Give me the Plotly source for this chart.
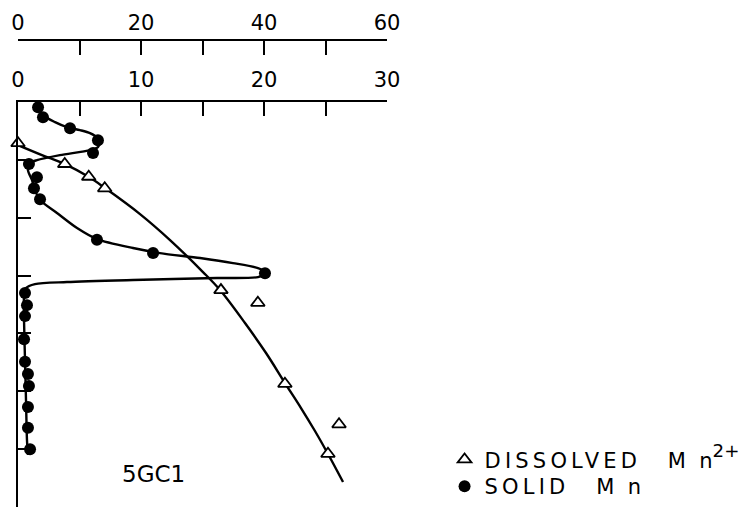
import plotly.graph_objects as go

# ---- data ----
# Dissolved Mn2+ (top scale, 0-60), depth in arbitrary units (ticks every 10)
dis_val = [0.0, 7.6, 11.5, 14.1, 33.0, 39.0, 43.4, 52.2, 50.4]
dis_depth = [7.1, 10.7, 12.9, 14.9, 32.5, 34.7, 48.7, 55.7, 60.8]

# Solid Mn (second scale, 0-30)
sol_val = [1.63, 2.03, 4.23, 6.50, 6.10, 0.89, 1.54, 1.30, 1.79, 6.42, 10.98, 20.08,
           0.57, 0.73, 0.57, 0.49, 0.57, 0.81, 0.89, 0.81, 0.81, 0.98]
sol_depth = [0.9, 2.6, 4.5, 6.6, 8.8, 10.7, 13.0, 14.9, 16.8, 23.8, 26.1, 29.6,
             33.0, 35.1, 37.0, 41.0, 44.9, 47.0, 49.1, 52.7, 56.3, 60.0]

# Hand-drawn fitted curves
dis_curve_val = [0.0, 3.90, 7.64, 11.54, 14.15, 19.84, 24.72, 30.08, 32.85, 36.91, 40.33,
                 43.41, 46.02, 48.29, 50.41, 52.85]
dis_curve_depth = [7.43, 9.16, 10.72, 12.96, 14.86, 19.36, 23.85, 29.38, 32.49, 38.20,
                   43.38, 48.57, 52.89, 56.86, 60.84, 65.68]

sol_curve_val = [1.38, 1.71, 2.03, 3.01, 3.98, 5.04, 5.85, 6.50, 6.67, 6.50, 5.85, 3.41,
                 1.54, 0.98, 0.81, 1.14, 1.38, 1.79, 3.17, 4.80, 6.42, 9.35, 11.54, 14.80,
                 17.48, 19.51, 20.24, 19.51, 16.18, 9.35, 3.98, 1.38, 0.65, 0.49, 0.49,
                 0.57, 0.65, 0.73, 0.81]
sol_curve_depth = [0.17, 1.04, 2.25, 3.46, 4.32, 4.84, 5.36, 6.22, 6.91, 7.78, 8.30, 9.16,
                   10.03, 10.54, 11.75, 13.48, 15.21, 16.94, 19.18, 21.78, 23.68, 25.23,
                   26.10, 26.96, 27.83, 28.69, 29.55, 30.25, 30.42, 30.76, 31.11, 31.46,
                   32.15, 33.70, 37.68, 44.59, 51.50, 58.42, 61.0]

FONT = "DejaVu Sans"
LS = "letter-spacing:4.2px"
NB = "\u00a0"

fig = go.Figure()

fig.add_trace(go.Scatter(x=sol_curve_val, y=sol_curve_depth, mode="lines",
                         line=dict(color="black", width=2.4, shape="spline", smoothing=0.8),
                         xaxis="x", yaxis="y", showlegend=False, hoverinfo="skip"))
fig.add_trace(go.Scatter(x=dis_curve_val, y=dis_curve_depth, mode="lines",
                         line=dict(color="black", width=2.4, shape="spline", smoothing=1.0),
                         xaxis="x2", yaxis="y", showlegend=False, hoverinfo="skip"))
fig.add_trace(go.Scatter(x=dis_val, y=dis_depth, mode="markers",
                         name=f'<span style="{LS}">DISSOLVED</span>{NB*4}M{NB*2}n<span style="font-size:26px"><sup>2+</sup></span>',
                         marker=dict(symbol="triangle-up", size=12, color="white",
                                     line=dict(color="black", width=1.8)),
                         xaxis="x2", yaxis="y", cliponaxis=False, legend="legend"))
fig.add_trace(go.Scatter(x=sol_val, y=sol_depth, mode="markers",
                         name=f'<span style="{LS}">SOLID</span>{NB*4}M{NB*2}n',
                         marker=dict(symbol="circle", size=12, color="black"),
                         xaxis="x", yaxis="y", cliponaxis=False, legend="legend2"))

fig.add_annotation(x=10.98, y=64.3, xref="x", yref="y", text="5GC1", showarrow=False,
                   font=dict(family=FONT, size=23, color="black"))

tickstyle = dict(ticks="inside", ticklen=14, tickwidth=2, tickcolor="black")
legstyle = dict(xanchor="left", bgcolor="rgba(0,0,0,0)",
                font=dict(family=FONT, size=21, color="black"), itemsizing="trace")

fig.update_layout(
    width=752, height=508,
    margin=dict(l=18, r=365, t=40, b=1),
    paper_bgcolor="white", plot_bgcolor="white",
    font=dict(family=FONT, size=21, color="black"),
    xaxis=dict(range=[0, 30], domain=[0, 1], anchor="y", side="top",
               tick0=0, dtick=10, minor=dict(dtick=5, **tickstyle), **tickstyle,
               showline=True, linewidth=2, linecolor="black",
               showgrid=False, zeroline=False, ticklabelstandoff=5),
    xaxis2=dict(range=[0, 60], overlaying="x", anchor="free", position=1, side="top",
                tick0=0, dtick=20, minor=dict(dtick=10, **tickstyle), **tickstyle,
                showline=True, linewidth=2, linecolor="black",
                showgrid=False, zeroline=False, ticklabelstandoff=1),
    yaxis=dict(range=[70, 0], domain=[0, 0.867], tick0=0, dtick=10, showticklabels=False,
               ticks="inside", ticklen=13, tickwidth=2, tickcolor="black",
               showline=True, linewidth=2, linecolor="black", showgrid=False, zeroline=False),
    showlegend=True,
    legend=dict(x=1.156, y=0.145, yanchor="top", **legstyle),
    legend2=dict(x=1.156, y=0.0, yanchor="bottom", **legstyle),
)

fig.write_html("out.html")
